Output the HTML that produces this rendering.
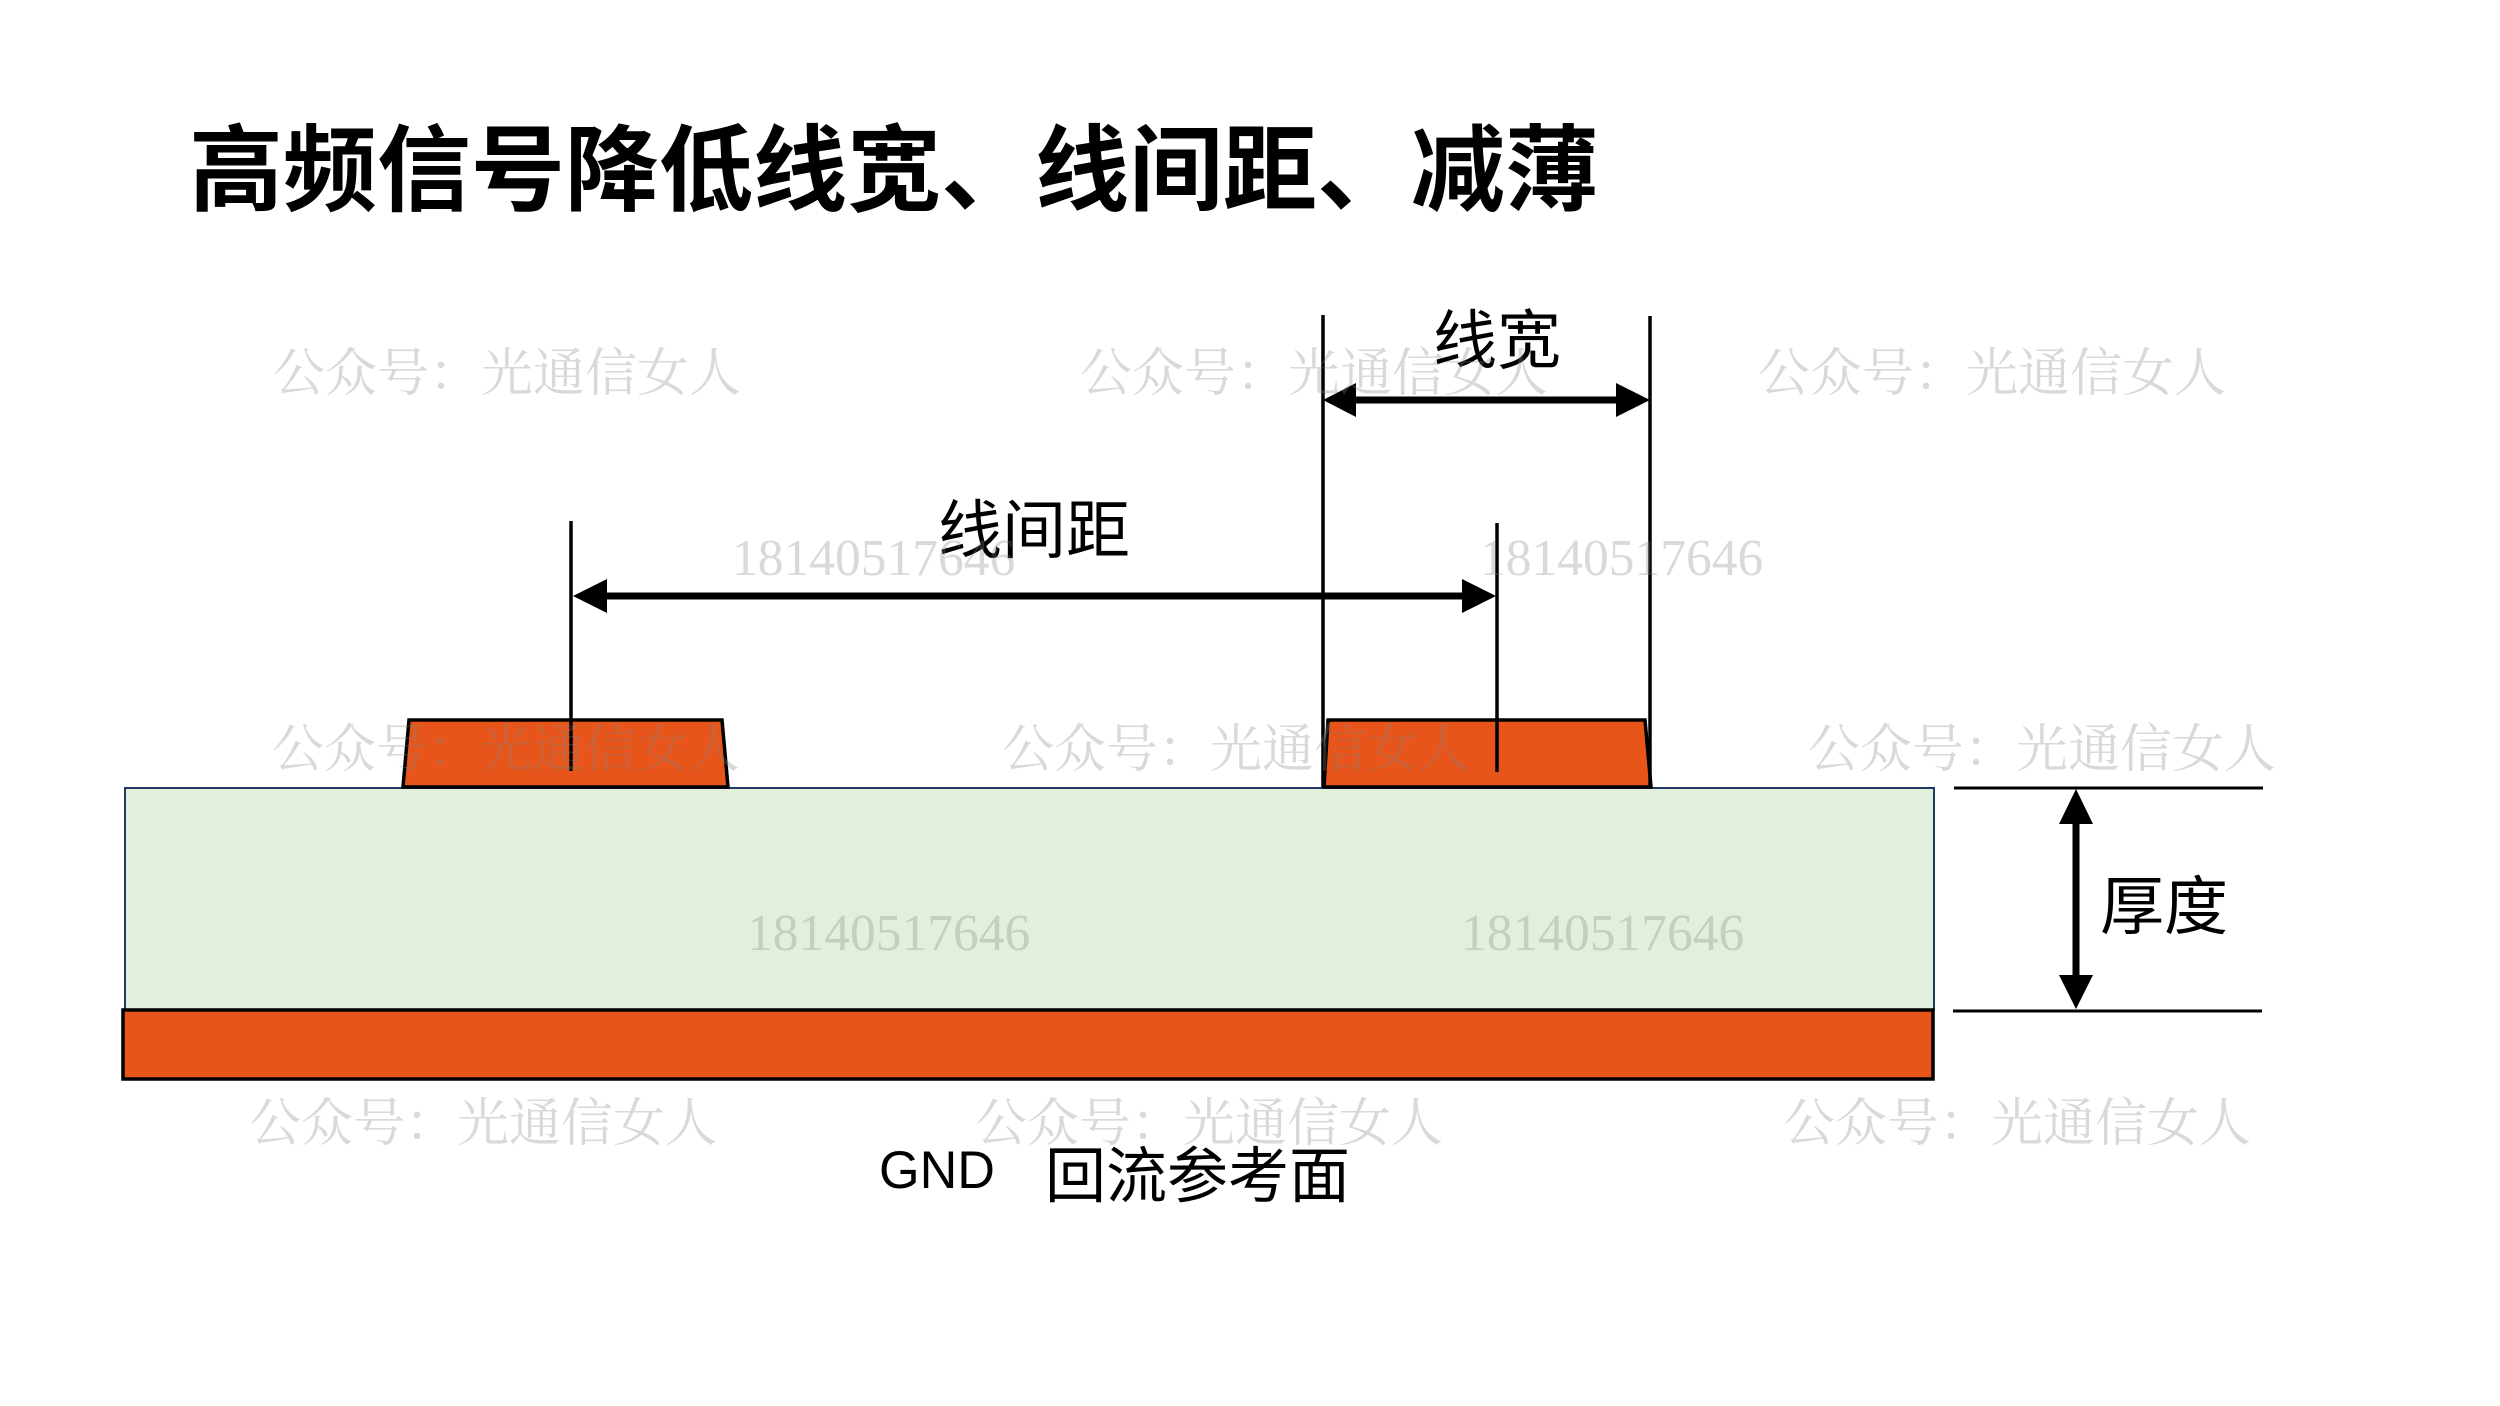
<!DOCTYPE html>
<html>
<head>
<meta charset="utf-8">
<style>
  html, body { margin: 0; padding: 0; background: #ffffff; }
  body { width: 2500px; height: 1406px; overflow: hidden; }
  svg { display: block; }
  .cjk { font-family: "Liberation Sans", "Noto Sans CJK SC", sans-serif; }
  .wm { font-family: "Liberation Serif", "Noto Serif CJK SC", serif; fill: #808080; fill-opacity: 0.3; }
  .wmd { font-family: "Liberation Serif", serif; fill: #808080; fill-opacity: 0.3; }
</style>
</head>
<body>
<svg width="2500" height="1406" viewBox="0 0 2500 1406" xmlns="http://www.w3.org/2000/svg">
  <rect x="0" y="0" width="2500" height="1406" fill="#ffffff"/>

  <!-- Title -->
  <text class="cjk" x="189" y="203" font-size="94" font-weight="bold" fill="#000">高频信号降低线宽、线间距、减薄</text>

  <!-- Dielectric -->
  <rect x="125" y="788" width="1809" height="222" fill="#E2EFDA" stroke="#1F3864" stroke-width="2"/>
  <!-- GND plane -->
  <rect x="123" y="1010" width="1810" height="69" fill="#E8551A" stroke="#000" stroke-width="3.5"/>

  <!-- Traces -->
  <polygon points="409,720 722,720 728,787 403,787" fill="#E8551A" stroke="#000" stroke-width="3.5" stroke-linejoin="miter"/>
  <polygon points="1328,720 1645,720 1651,787 1324,787" fill="#E8551A" stroke="#000" stroke-width="3.5" stroke-linejoin="miter"/>

  <!-- Extension lines -->
  <line x1="571" y1="521" x2="571" y2="771" stroke="#000" stroke-width="3.5"/>
  <line x1="1323" y1="315" x2="1323" y2="787" stroke="#000" stroke-width="3.5"/>
  <line x1="1650" y1="316" x2="1650" y2="787" stroke="#000" stroke-width="3.5"/>
  <line x1="1497" y1="523" x2="1497" y2="772" stroke="#000" stroke-width="3.5"/>

  <!-- 线宽 arrow -->
  <line x1="1350" y1="400" x2="1620" y2="400" stroke="#000" stroke-width="7"/>
  <polygon points="1323,400 1356,383 1356,417" fill="#000"/>
  <polygon points="1650,400 1616,383 1616,417" fill="#000"/>

  <!-- 线间距 arrow -->
  <line x1="600" y1="596" x2="1470" y2="596" stroke="#000" stroke-width="7"/>
  <polygon points="573,596 607,579 607,613" fill="#000"/>
  <polygon points="1496,596 1462,579 1462,613" fill="#000"/>

  <!-- Thickness reference lines -->
  <line x1="1954" y1="788" x2="2263" y2="788" stroke="#000" stroke-width="3"/>
  <line x1="1953" y1="1011" x2="2262" y2="1011" stroke="#000" stroke-width="3"/>
  <!-- Thickness arrow -->
  <line x1="2076" y1="815" x2="2076" y2="984" stroke="#000" stroke-width="7"/>
  <polygon points="2076,789 2059,824 2093,824" fill="#000"/>
  <polygon points="2076,1009 2059,975 2093,975" fill="#000"/>

  <!-- Labels -->
  <text class="cjk" x="1497" y="363" font-size="64" text-anchor="middle" fill="#000">线宽</text>
  <text class="cjk" x="1034" y="553" font-size="64" text-anchor="middle" fill="#000">线间距</text>
  <text class="cjk" x="2164" y="929" font-size="64" text-anchor="middle" fill="#000">厚度</text>
  <text class="cjk" x="879" y="1188" font-size="53" fill="#000" textLength="116" lengthAdjust="spacingAndGlyphs">GND</text>
  <text class="cjk" x="1045" y="1197" font-size="61" fill="#000">回流参考面</text>

  <!-- Watermarks -->
  <text class="wm" x="273" y="391" font-size="52">公众号：光通信女人</text>
  <text class="wm" x="1080" y="391" font-size="52">公众号：光通信女人</text>
  <text class="wm" x="1758" y="391" font-size="52">公众号：光通信女人</text>

  <text class="wmd" x="732" y="575" font-size="51.5">18140517646</text>
  <text class="wmd" x="1480" y="575" font-size="51.5">18140517646</text>

  <text class="wm" x="272" y="767" font-size="52">公众号：光通信女人</text>
  <text class="wm" x="1002" y="767" font-size="52">公众号：光通信女人</text>
  <text class="wm" x="1808" y="767" font-size="52">公众号：光通信女人</text>

  <text class="wmd" x="747" y="950" font-size="51.5">18140517646</text>
  <text class="wmd" x="1461" y="950" font-size="51.5">18140517646</text>

  <text class="wm" x="249" y="1141" font-size="52">公众号：光通信女人</text>
  <text class="wm" x="975" y="1141" font-size="52">公众号：光通信女人</text>
  <text class="wm" x="1783" y="1141" font-size="52">公众号：光通信女人</text>
</svg>
</body>
</html>
